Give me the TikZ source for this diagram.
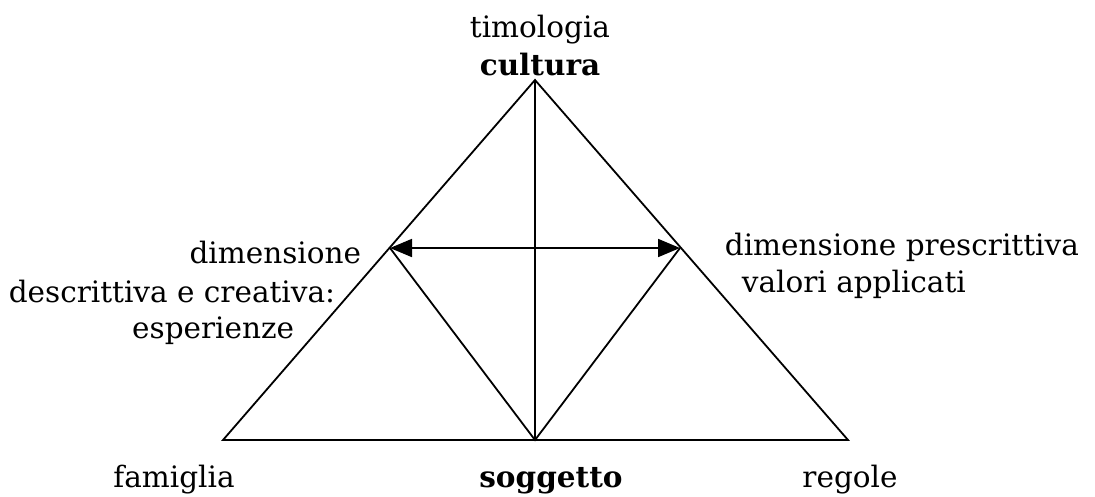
\documentclass[tikz,border=0pt]{standalone}
\usepackage{fontspec}
\setmainfont{DejaVu Serif}
\usetikzlibrary{arrows.meta}

\begin{document}
\begin{tikzpicture}[x=1pt, y=-1pt, line width=1.8pt,
    etichetta/.style={font=\fontsize{29.5}{35}\selectfont, inner sep=0pt},
    freccia/.style={{Triangle[length=22pt,width=18pt]}-{Triangle[length=22pt,width=18pt]}}]
    \useasboundingbox (0,0) rectangle (1095,496);

    % Vertici
    \coordinate (apice) at (535,80);
    \coordinate (sx) at (223,440);
    \coordinate (dx) at (848,440);
    \coordinate (base) at (535,440);
    \coordinate (msx) at (390,248);
    \coordinate (mdx) at (680,248);

    % Triangolo esterno e linee interne
    \draw (sx) -- (apice) -- (dx) -- cycle;
    \draw (apice) -- (base);
    \draw (msx) -- (base) -- (mdx);
    \draw[freccia] (msx) -- (mdx);

    % Etichette
    \node[etichetta, anchor=base] (timologia) at (540,37) {timologia};
    \node[etichetta, anchor=base] (cultura) at (540,75) {\textbf{cultura}};
    \node[etichetta, anchor=base east] (dimsx) at (362,263) {dimensione};
    \node[etichetta, anchor=base east] (descr) at (336,302) {descrittiva e creativa:};
    \node[etichetta, anchor=base east] (esper) at (295,338) {esperienze};
    \node[etichetta, anchor=base west] (dimdx) at (724,255) {dimensione prescrittiva};
    \node[etichetta, anchor=base west] (valori) at (741,292) {valori applicati};
    \node[etichetta, anchor=base] (famiglia) at (174,487) {famiglia};
    \node[etichetta, anchor=base] (soggetto) at (551,487) {\textbf{soggetto}};
    \node[etichetta, anchor=base] (regole) at (850,487) {regole};
\end{tikzpicture}
\end{document}
